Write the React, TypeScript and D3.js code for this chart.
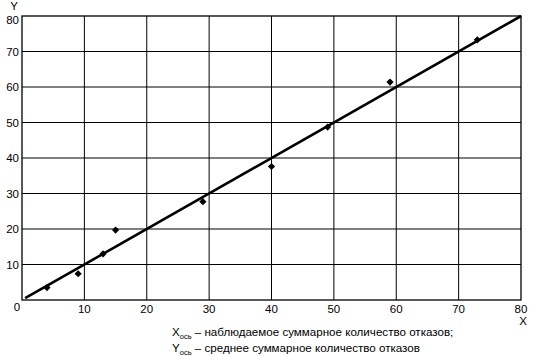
import React from "react";
import * as d3 from "d3";

const xTicks = [10, 20, 30, 40, 50, 60, 70, 80];
const yTicks = [10, 20, 30, 40, 50, 60, 70, 80];
const gridValues = [10, 20, 30, 40, 50, 60, 70];
const pointsX = [4, 9, 13, 15, 29, 40, 49, 59, 73];
const pointsY = [3.5, 7.4, 13, 19.7, 27.7, 37.6, 48.7, 61.4, 73.3];
const lineX = [0.5, 80];
const lineY = [0.5, 80];

export default function App() {
  const W = 534, H = 356;
  const left = 22, right = 521, top = 16, bottom = 300;
  const x = d3.scaleLinear().domain([0, 80]).range([left, right]);
  const y = d3.scaleLinear().domain([0, 80]).range([bottom, top]);
  const font = "Liberation Sans, Arial, sans-serif";
  const line = d3.line<number>().x((d, i) => x(lineX[i])).y((d, i) => y(lineY[i]));
  const r = 3.6;
  const diamond = `M0,${-r}L${r},0L0,${r}L${-r},0Z`;
  return (
    <svg width={W} height={H} style={{ position: "absolute", left: 0, top: 0, background: "#fff" }}>
      <rect x={0} y={0} width={W} height={H} fill="#fff" />
      {gridValues.map((v) => (
        <line key={"gx" + v} x1={x(v)} x2={x(v)} y1={y(0)} y2={y(80)} stroke="#000" strokeWidth={1} />
      ))}
      {gridValues.map((v) => (
        <line key={"gy" + v} x1={x(0)} x2={x(80)} y1={y(v)} y2={y(v)} stroke="#000" strokeWidth={1} />
      ))}
      <rect x={left} y={top} width={right - left} height={bottom - top} fill="none" stroke="#000" strokeWidth={1.3} />
      <path d={line(lineX) || ""} stroke="#000" strokeWidth={2.6} fill="none" />
      {pointsX.map((px, i) => (
        <path key={"p" + i} d={diamond} transform={`translate(${x(px)},${y(pointsY[i])})`} fill="#000" />
      ))}
      {yTicks.map((v) => (
        <text key={"yt" + v} x={left - 3} y={v === 80 ? y(v) + 8 : y(v) + 4} textAnchor="end" fontFamily={font} fontSize={11.5} fill="#000">{v}</text>
      ))}
      {xTicks.map((v) => (
        <text key={"xt" + v} x={x(v)} y={bottom + 13} textAnchor="middle" fontFamily={font} fontSize={11.5} fill="#000">{v}</text>
      ))}
      <text x={17} y={bottom + 11} textAnchor="middle" fontFamily={font} fontSize={11.5} fill="#000">0</text>
      <text x={14} y={10} textAnchor="middle" fontFamily={font} fontSize={11.5} fill="#000">Y</text>
      <text x={523} y={325} textAnchor="middle" fontFamily={font} fontSize={11.5} fill="#000">X</text>
      <text x={172} y={336} fontFamily={font} fontSize={11.6} fill="#000">
        X<tspan fontSize={7.5} dy={3}>ось</tspan><tspan dy={-3}> –  наблюдаемое суммарное количество отказов;</tspan>
      </text>
      <text x={172} y={352} fontFamily={font} fontSize={11.6} fill="#000">
        Y<tspan fontSize={7.5} dy={3}>ось</tspan><tspan dy={-3}> – среднее суммарное количество отказов</tspan>
      </text>
    </svg>
  );
}
